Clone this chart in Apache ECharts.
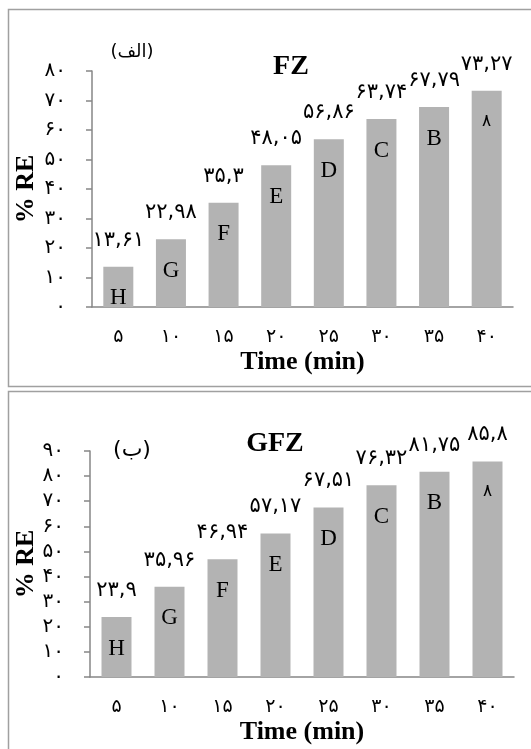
<!DOCTYPE html>
<html><head><meta charset="utf-8">
<script src="https://cdn.jsdelivr.net/npm/echarts@6/dist/echarts.min.js"></script>
<style>html,body{margin:0;padding:0;background:#fff}#c{width:531px;height:749px}</style>
</head><body><div id="c"></div>
<script>
// ---- data ----
const categories = ['5', '10', '15', '20', '25', '30', '35', '40'];
const fzValues = [13.61, 22.98, 35.3, 48.05, 56.86, 63.74, 67.79, 73.27];
const gfzValues = [23.9, 35.96, 46.94, 57.17, 67.51, 76.32, 81.75, 85.8];
const groupLetters = ['H', 'G', 'F', 'E', 'D', 'C', 'B', '۸'];
const fzAxis = { min: 0, max: 80, interval: 10 };
const gfzAxis = { min: 0, max: 90, interval: 10 };
const titles = ['FZ', 'GFZ'];
const panelTags = ['(الف)', '(ب)'];
const xName = 'Time (min)';
const yName = '% RE';

// ---- helpers ----
const FA = '۰۱۲۳۴۵۶۷۸۹';
function toFa(v) {
  return String(v).replace(/[0-9]/g, d => FA[+d]).replace('.', ',');
}
const SERIF = "'Liberation Serif', 'Times New Roman', serif";
const FAFONT = "'DejaVu Sans', sans-serif";
const AX = '#868686';
const BAR = '#b3b3b3';

function axesFor(idx, range, nameGapY) {
  return {
    x: {
      type: 'category', gridIndex: idx, data: categories,
      axisLine: { lineStyle: { color: AX, width: 1.5 } },
      axisTick: { show: false },
      axisLabel: { color: '#000', fontFamily: FAFONT, fontSize: 19, margin: 21, formatter: v => toFa(v) },
      name: xName, nameLocation: 'middle', nameGap: 42, nameMoveOverlap: false,
      nameTextStyle: { color: '#000', fontFamily: SERIF, fontWeight: 'bold', fontSize: 26 }
    },
    y: {
      type: 'value', gridIndex: idx, min: range.min, max: range.max, interval: range.interval,
      axisLine: { show: true, lineStyle: { color: AX, width: 1.5 } },
      axisTick: { show: true, length: 6, lineStyle: { color: AX, width: 1.5 } },
      splitLine: { show: false },
      axisLabel: { color: '#000', fontFamily: FAFONT, fontSize: 20, margin: 26, formatter: v => toFa(v) },
      name: yName, nameLocation: 'middle', nameGap: nameGapY, nameMoveOverlap: false,
      nameTextStyle: { color: '#000', fontFamily: SERIF, fontWeight: 'bold', fontSize: 26 }
    }
  };
}
const a0 = axesFor(0, fzAxis, 53);
const a1 = axesFor(1, gfzAxis, 51);

function seriesFor(idx, values) {
  const letterData = values.map((v, i) => {
    const s = groupLetters[i];
    return /[A-Za-z]/.test(s)
      ? { value: v }
      : { value: v, label: { fontFamily: FAFONT, fontSize: 17, distance: 22 } };
  });
  return [
    {
      type: 'bar', xAxisIndex: idx, yAxisIndex: idx, data: values, barWidth: 30,
      itemStyle: { color: BAR },
      label: {
        show: true, position: 'top', distance: 16, color: '#000',
        fontFamily: FAFONT, fontSize: 21, formatter: p => toFa(p.value)
      },
      silent: true
    },
    {
      type: 'bar', xAxisIndex: idx, yAxisIndex: idx, data: letterData, barWidth: 30, barGap: '-100%',
      itemStyle: { color: 'rgba(0,0,0,0)' },
      label: {
        show: true, position: 'insideTop', distance: 20, color: '#000',
        fontFamily: SERIF, fontSize: 23,
        formatter: p => groupLetters[p.dataIndex]
      },
      silent: true, z: 3
    }
  ];
}

const chart = echarts.init(document.getElementById('c'), null, { renderer: 'canvas' });
chart.setOption({
  animation: false,
  backgroundColor: '#fff',
  grid: [
    { left: 92, right: 18, top: 71, height: 236 },
    { left: 90, right: 17, top: 451, height: 226 }
  ],
  xAxis: [a0.x, a1.x],
  yAxis: [a0.y, a1.y],
  series: [...seriesFor(0, fzValues), ...seriesFor(1, gfzValues)],
  graphic: [
    { type: 'rect', shape: { x: 8.5, y: 9.5, width: 560, height: 377 }, style: { fill: 'none', stroke: '#a0a0a0', lineWidth: 1.5 }, silent: true },
    { type: 'rect', shape: { x: 8.5, y: 391.5, width: 560, height: 420 }, style: { fill: 'none', stroke: '#a0a0a0', lineWidth: 1.5 }, silent: true },
    { type: 'text', x: 291, y: 67, style: { text: titles[0], fill: '#000', font: "bold 28px 'Liberation Serif'", textAlign: 'center', textVerticalAlign: 'middle' } },
    { type: 'text', x: 275, y: 444, style: { text: titles[1], fill: '#000', font: "bold 28px 'Liberation Serif'", textAlign: 'center', textVerticalAlign: 'middle' } },
    { type: 'text', x: 132, y: 52, style: { text: panelTags[0], fill: '#000', font: "18px 'DejaVu Sans'", textAlign: 'center', textVerticalAlign: 'middle' } },
    { type: 'text', x: 132, y: 450, style: { text: panelTags[1], fill: '#000', font: "22px 'DejaVu Sans'", textAlign: 'center', textVerticalAlign: 'middle' } }
  ]
});
</script>
</body></html>
